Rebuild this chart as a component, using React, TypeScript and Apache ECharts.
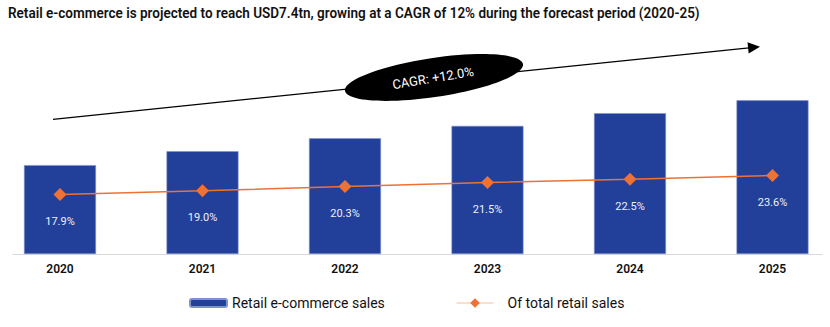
import React, { useEffect, useRef } from "react";
import * as echarts from "echarts";

const years = ["2020", "2021", "2022", "2023", "2024", "2025"];
const ecommerceSales = [4.28, 4.95, 5.57, 6.17, 6.78, 7.4];
const shareOfTotal = [17.9, 19.0, 20.3, 21.5, 22.5, 23.6];
const titleText =
  "Retail e-commerce is projected to reach USD7.4tn, growing at a CAGR of 12% during the forecast period (2020-25)";
const cagrText = "CAGR: +12.0%";
const seriesNames = ["Retail e-commerce sales", "Of total retail sales"];

const BLUE = "#22409a";
const ORANGE = "#ed7233";

export default function App() {
  const ref = useRef<HTMLDivElement>(null);
  useEffect(() => {
    document.body.style.margin = "0";
    const chart = echarts.init(ref.current!, null, { renderer: "svg" });
    const deg = Math.PI / 180;

    // title: measure and fit horizontally to the reference width
    const titleFont = "600 14.5px Roboto";
    let titleScale = 1;
    try {
      const c = document.createElement("canvas").getContext("2d");
      if (c) {
        c.font = titleFont;
        const w = c.measureText(titleText).width;
        if (w > 0) titleScale = 692 / w;
      }
    } catch (e) {}

    const idx = years.map((_, i) => i);
    chart.setOption({
      animation: false,
      textStyle: { fontFamily: "Roboto" },
      grid: { left: 13, right: 8, top: 46.3, bottom: 73 },
      legend: [
        {
          data: [seriesNames[0]],
          left: 189,
          top: 296,
          padding: 0,
          itemWidth: 37,
          itemHeight: 8,
          textStyle: { fontSize: 14, color: "#111", fontFamily: "Roboto" },
        },
        {
          data: [seriesNames[1]],
          left: 456,
          top: 296,
          padding: 0,
          itemWidth: 37,
          itemHeight: 12,
          lineStyle: { color: "#f8bd9c", width: 1 },
          textStyle: {
            fontSize: 14,
            color: "#111",
            fontFamily: "Roboto",
            padding: [0, 0, 0, 9],
          },
        },
      ],
      xAxis: {
        type: "value",
        min: -0.3298,
        max: 5.3474,
        splitLine: { show: false },
        axisLine: { show: true, lineStyle: { color: "#d9d9d9", width: 1 } },
        axisTick: { show: false },
        axisLabel: {
          customValues: idx,
          formatter: (v: number) => years[Math.round(v)] ?? "",
          margin: 9,
          fontSize: 12,
          fontWeight: 600,
          color: "#111",
          fontFamily: "Roboto",
        },
      },
      yAxis: [
        { type: "value", min: 0, max: 10, show: false },
        { type: "value", min: 0, max: 62.5, show: false },
      ],
      series: [
        {
          name: seriesNames[0],
          type: "bar",
          data: ecommerceSales.map((v, i) => [i, v]),
          barWidth: 72,
          yAxisIndex: 0,
          itemStyle: { color: BLUE, borderColor: "#7f92cc", borderWidth: 0.6 },
        },
        {
          name: seriesNames[1],
          type: "line",
          data: shareOfTotal.map((v, i) => [i, v]),
          yAxisIndex: 1,
          symbol: "diamond",
          symbolSize: 13,
          itemStyle: { color: ORANGE },
          lineStyle: { color: ORANGE, width: 1.5 },
          label: {
            show: true,
            position: "bottom",
            distance: 15,
            formatter: (p: any) => Number(p.value[1]).toFixed(1) + "%",
            color: "#eef0f8",
            fontSize: 11,
            fontFamily: "Roboto",
          },
        },
      ],
      graphic: [
        {
          type: "text",
          x: 8,
          y: 13,
          scaleX: titleScale,
          style: {
            text: titleText,
            fill: "#111",
            font: titleFont,
            verticalAlign: "middle",
          },
        },
        {
          type: "line",
          shape: { x1: 53, y1: 119.3, x2: 749, y2: 47.8 },
          style: { stroke: "#000", lineWidth: 1.2 },
        },
        {
          type: "polygon",
          shape: {
            points: [
              [760, 46.7],
              [748.7, 53.4],
              [747.5, 42.2],
            ],
          },
          style: { fill: "#000" },
        },
        {
          type: "ellipse",
          x: 434,
          y: 77.5,
          rotation: 8.5 * deg,
          shape: { cx: 0, cy: 0, rx: 90, ry: 19.5 },
          style: { fill: "#000" },
          z: 10,
        },
        {
          type: "text",
          x: 433,
          y: 78,
          rotation: 9.5 * deg,
          style: {
            text: cagrText,
            fill: "#fff",
            fontSize: 13,
            fontFamily: "Roboto",
            align: "center",
            verticalAlign: "middle",
          },
          z: 11,
        },
      ],
    });
    return () => chart.dispose();
  }, []);
  return <div ref={ref} style={{ width: 830, height: 327 }} />;
}
